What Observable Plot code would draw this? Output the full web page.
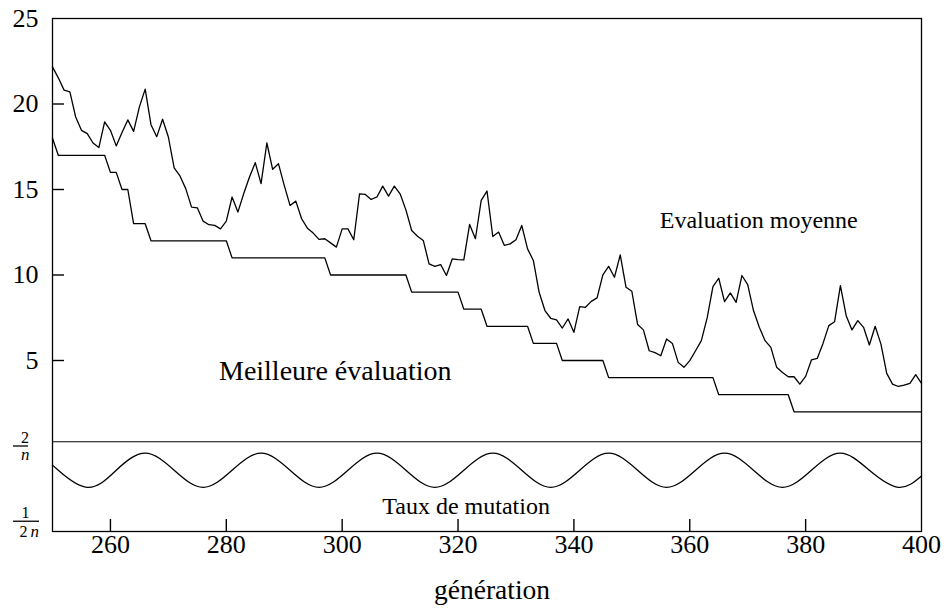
<!DOCTYPE html>
<html>
<head>
<meta charset="utf-8">
<script src="https://cdn.jsdelivr.net/npm/d3@7"></script>
<script src="https://cdn.jsdelivr.net/npm/@observablehq/plot@0.6"></script>
<style>
  body { margin: 0; background: #fff; }
</style>
</head>
<body>
<div id="chart"></div>
<script>
// ---- Data ----
const generations = [
  250,251,252,253,254,255,256,257,258,259,
  260,261,262,263,264,265,266,267,268,269,
  270,271,272,273,274,275,276,277,278,279,
  280,281,282,283,284,285,286,287,288,289,
  290,291,292,293,294,295,296,297,298,299,
  300,301,302,303,304,305,306,307,308,309,
  310,311,312,313,314,315,316,317,318,319,
  320,321,322,323,324,325,326,327,328,329,
  330,331,332,333,334,335,336,337,338,339,
  340,341,342,343,344,345,346,347,348,349,
  350,351,352,353,354,355,356,357,358,359,
  360,361,362,363,364,365,366,367,368,369,
  370,371,372,373,374,375,376,377,378,379,
  380,381,382,383,384,385,386,387,388,389,
  390,391,392,393,394,395,396,397,398,399,
  400
];
const evaluationMoyenne = [
  22.17,21.53,20.81,20.71,19.24,18.46,18.27,17.72,17.45,18.95,
  18.46,17.55,18.33,19.07,18.40,19.83,20.87,18.79,18.09,19.11,
  18.07,16.26,15.79,15.05,13.97,13.93,13.15,12.94,12.90,12.70,
  13.15,14.56,13.68,14.75,15.73,16.57,15.34,17.72,16.18,16.51,
  15.24,14.07,14.32,13.29,12.74,12.45,12.08,12.12,11.88,11.63,
  12.70,12.70,12.06,14.75,14.71,14.42,14.56,15.20,14.61,15.20,
  14.75,13.81,12.60,12.27,12.02,10.65,10.50,10.61,9.97,10.94,
  10.90,10.89,12.96,12.12,14.36,14.91,12.25,12.51,11.73,11.82,
  12.06,12.90,11.53,10.85,8.99,7.92,7.47,7.37,6.90,7.43,
  6.65,8.15,8.11,8.46,8.66,10.01,10.51,9.87,11.18,9.28,
  9.05,7.10,6.79,5.57,5.46,5.28,6.26,6.00,4.89,4.60,
  4.99,5.57,6.16,7.49,9.32,9.81,8.44,8.95,8.40,9.97,
  9.44,7.92,6.94,6.16,5.77,4.60,4.30,4.05,4.05,3.62,
  4.07,5.03,5.12,6.00,7.04,7.27,9.38,7.62,6.79,7.33,
  6.94,5.91,7.00,5.96,4.25,3.62,3.48,3.56,3.66,4.17,
  3.66
];
const meilleureEvaluation = [
  18,17,17,17,17,17,17,17,17,17,
  16,16,15,15,13,13,13,12,12,12,
  12,12,12,12,12,12,12,12,12,12,
  12,11,11,11,11,11,11,11,11,11,
  11,11,11,11,11,11,11,11,10,10,
  10,10,10,10,10,10,10,10,10,10,
  10,10,9,9,9,9,9,9,9,9,
  9,8,8,8,8,7,7,7,7,7,
  7,7,7,6,6,6,6,6,5,5,
  5,5,5,5,5,5,4,4,4,4,
  4,4,4,4,4,4,4,4,4,4,
  4,4,4,4,4,3,3,3,3,3,
  3,3,3,3,3,3,3,3,2,2,
  2,2,2,2,2,2,2,2,2,2,
  2,2,2,2,2,2,2,2,2,2,
  2
];
// mutation-rate curve (plotted in the lower band, same vertical units)
const tauxGenerations = [250,251,256,261,266,271,276,281,286,291,296,301,306,311,316,321,326,331,336,341,346,351,356,361,366,371,376,381,386,391,396,400];
const tauxMutation   = [-1.12,-1.42,-2.42,-1.42,-0.42,-1.42,-2.42,-1.42,-0.42,-1.42,-2.42,-1.42,-0.42,-1.42,-2.42,-1.42,-0.42,-1.42,-2.42,-1.42,-0.42,-1.42,-2.42,-1.42,-0.42,-1.42,-2.42,-1.42,-0.42,-1.42,-2.42,-1.75];
const niveauTauxMax = [0.25];

const xDomain = [250, 400];
const yDomain = [-5, 25];
const xTickLabels = [260,280,300,320,340,360,380,400];
const xTickMarks  = [260,280,300,320,340,360,380];
const yTickLabels = [5,10,15,20,25];
const yTickMarks  = [5,10,15,20];
const tauxTickValues = [0, -4.4];
const tauxNumerators = ["2", "1"];
const tauxDenDigits  = ["", "2"];
const tauxDenItalic  = ["n", "n"];

const labelTexts = ["Evaluation moyenne", "Meilleure évaluation", "Taux de mutation"];
const labelX = [371.9, 298.8, 321.4];
const labelY = [13.2, 4.38, -3.54];
const axisTitle = "génération";

// ---- Layout ----
const W = 944, H = 614, ML = 52, MR = 23, MT = 18, MB = 83;
const FW = W - ML - MR, FH = H - MT - MB;
const TICK = 12; // tick length in pixels
const tickLenX = TICK * (xDomain[1] - xDomain[0]) / FW;
const tickLenY = TICK * (yDomain[1] - yDomain[0]) / FH;
const serif = "Liberation Serif";

const moyenne = generations.map((g, i) => ({g, v: evaluationMoyenne[i]}));
const meilleure = generations.map((g, i) => ({g, v: meilleureEvaluation[i]}));
const taux = tauxGenerations.map((g, i) => ({g, v: tauxMutation[i]}));
const labels = labelTexts.map((t, i) => ({t, x: labelX[i], y: labelY[i]}));

// fraction label layout (pixel offsets, styling only)
const fracLayout = [
  {numDx: -31.5, numDy: -8, barL: 13, barR: 28, digDx: 0, itaDx: -31.5, denDy: 9},
  {numDx: -31, numDy: -8.5, barL: 13, barR: 39, digDx: -33, itaDx: -22, denDy: 10.5}
];
const fracMarks = [];
tauxTickValues.forEach((v, i) => {
  const L = fracLayout[i];
  fracMarks.push(Plot.text([v], {y: d => d, text: () => tauxNumerators[i], frameAnchor: "left", dx: L.numDx, dy: L.numDy, fontSize: 16, fontFamily: serif, fill: "black"}));
  fracMarks.push(Plot.ruleY([v], {y: d => d, insetLeft: L.barL - ML, insetRight: (W - MR) - L.barR, stroke: "black", strokeWidth: 1.3}));
  if (tauxDenDigits[i]) fracMarks.push(Plot.text([v], {y: d => d, text: () => tauxDenDigits[i], frameAnchor: "left", dx: L.digDx, dy: L.denDy, fontSize: 16, fontFamily: serif, fill: "black"}));
  fracMarks.push(Plot.text([v], {y: d => d, text: () => tauxDenItalic[i], frameAnchor: "left", dx: L.itaDx, dy: L.denDy, fontSize: 17, fontFamily: serif, fontStyle: "italic", fill: "black"}));
});

const chart = Plot.plot({
  width: W, height: H,
  marginLeft: ML, marginRight: MR, marginTop: MT, marginBottom: MB,
  x: {domain: xDomain, axis: null},
  y: {domain: yDomain, axis: null},
  style: {fontFamily: "'Liberation Serif', serif", fontSize: "26px", color: "black", background: "white"},
  marks: [
    Plot.frame({stroke: "black", strokeWidth: 1.3}),
    Plot.ruleY(niveauTauxMax, {y: d => d, stroke: "black", strokeWidth: 1.2}),
    // inward tick marks
    Plot.ruleY(yTickMarks, {y: d => d, x1: () => xDomain[0], x2: () => xDomain[0] + tickLenX, stroke: "black", strokeWidth: 1.4}),
    Plot.ruleX(xTickMarks, {x: d => d, y1: () => yDomain[0], y2: () => yDomain[0] + tickLenY, stroke: "black", strokeWidth: 1.4}),
    Plot.line(moyenne, {x: "g", y: "v", stroke: "black", strokeWidth: 1.3}),
    Plot.line(meilleure, {x: "g", y: "v", stroke: "black", strokeWidth: 1.3}),
    Plot.line(taux, {x: "g", y: "v", stroke: "black", strokeWidth: 1.3, curve: "natural"}),
    Plot.text(yTickLabels, {y: d => d, text: d => String(d), frameAnchor: "left", textAnchor: "end", dx: -14, fontSize: 26, fontFamily: serif, fill: "black"}),
    Plot.text(xTickLabels, {x: d => d, text: d => String(d), frameAnchor: "bottom", dy: 21.5, fontSize: 26, fontFamily: serif, fill: "black"}),
    Plot.text([axisTitle], {text: d => d, frameAnchor: "bottom", dx: 5, dy: 67, fontSize: 27.5, fontFamily: serif, fill: "black"}),
    Plot.text(labels.slice(0, 1), {x: "x", y: "y", text: "t", fontSize: 24, fontFamily: serif, fill: "black"}),
    Plot.text(labels.slice(1, 2), {x: "x", y: "y", text: "t", fontSize: 28, fontFamily: serif, fill: "black"}),
    Plot.text(labels.slice(2, 3), {x: "x", y: "y", text: "t", fontSize: 24, fontFamily: serif, fill: "black"}),
    ...fracMarks
  ]
});
document.getElementById("chart").appendChild(chart);
</script>
</body>
</html>
